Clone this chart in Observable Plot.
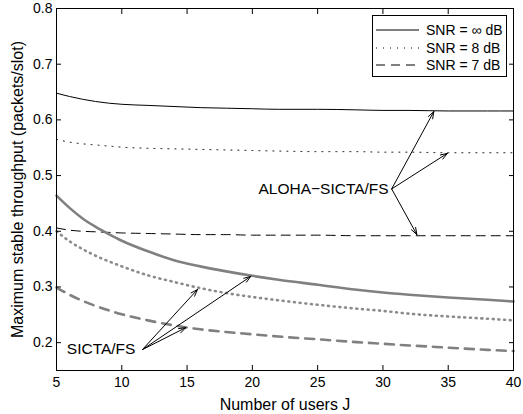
<!DOCTYPE html>
<html>
<head>
<meta charset="utf-8">
<script src="https://cdn.jsdelivr.net/npm/d3@7"></script>
<script src="https://cdn.jsdelivr.net/npm/@observablehq/plot@0.6"></script>
<style>
  html, body { margin: 0; padding: 0; background: #fff; }
  #wrap { position: relative; width: 523px; height: 414px; font-family: "Liberation Sans", Arial, Helvetica, sans-serif; }
  #legend { position: absolute; left: 372px; top: 15px; }
</style>
</head>
<body>
<div id="wrap"></div>
<script>
// ---- data ----
const users = [5, 6, 7, 8, 9, 10, 12, 14, 16, 18, 20, 22, 25, 28, 30, 32, 35, 38, 40];
const alohaInf = [0.648, 0.642, 0.637, 0.633, 0.630, 0.628, 0.626, 0.624, 0.622, 0.621, 0.620, 0.619, 0.619, 0.618, 0.617, 0.617, 0.616, 0.616, 0.616];
const aloha8   = [0.565, 0.560, 0.557, 0.555, 0.553, 0.551, 0.549, 0.548, 0.547, 0.546, 0.545, 0.544, 0.543, 0.543, 0.542, 0.542, 0.541, 0.541, 0.541];
const aloha7   = [0.406, 0.402, 0.400, 0.399, 0.398, 0.397, 0.396, 0.395, 0.394, 0.394, 0.393, 0.393, 0.393, 0.392, 0.392, 0.392, 0.392, 0.392, 0.392];
const sictaInf = [0.464, 0.442, 0.423, 0.408, 0.395, 0.383, 0.364, 0.348, 0.337, 0.328, 0.320, 0.313, 0.304, 0.295, 0.290, 0.286, 0.281, 0.277, 0.274];
const sicta8   = [0.400, 0.382, 0.368, 0.356, 0.346, 0.337, 0.321, 0.309, 0.298, 0.289, 0.282, 0.276, 0.268, 0.261, 0.257, 0.252, 0.247, 0.243, 0.240];
const sicta7   = [0.299, 0.286, 0.275, 0.266, 0.258, 0.251, 0.240, 0.231, 0.224, 0.219, 0.215, 0.211, 0.206, 0.201, 0.198, 0.195, 0.191, 0.187, 0.185];

const xTicks = [5, 10, 15, 20, 25, 30, 35, 40];
const yTicks = [0.2, 0.3, 0.4, 0.5, 0.6, 0.7, 0.8];
const xLabel = "Number of users J";
const yLabel = "Maximum stable throughput (packets/slot)";
const legendLabels = ["SNR = \u221E dB", "SNR = 8 dB", "SNR = 7 dB"];

// annotations: label, tail point, arrow tips
const alohaLabel = "ALOHA\u2212SICTA/FS";
const alohaTail = [30.67, 0.476];
const alohaTips = [[33.9, 0.615], [34.94, 0.540], [32.6, 0.394]];
const sictaLabel = "SICTA/FS";
const sictaTail = [11.58, 0.1875];
const sictaTips = [[15.8, 0.2955], [19.88, 0.319], [14.9, 0.227]];

// ---- styles ----
const FONT = "'Liberation Sans', Arial, Helvetica, sans-serif";
const GRAY = "#808080";
const series = [
  {vals: alohaInf, stroke: "black", width: 1, dash: null},
  {vals: aloha8, stroke: "black", width: 1, dash: "1,6"},
  {vals: aloha7, stroke: "black", width: 1, dash: "9,6"},
  {vals: sictaInf, stroke: GRAY, width: 2.6, dash: null},
  {vals: sicta8, stroke: "#8c8c8c", width: 2.6, dash: "1,4.7"},
  {vals: sicta7, stroke: GRAY, width: 2.6, dash: "9,7"}
];

const lineMarks = series.map(s => Plot.line(users.map((u, i) => ({x: u, y: s.vals[i]})), {
  x: "x", y: "y", stroke: s.stroke, strokeWidth: s.width,
  strokeDasharray: s.dash, curve: "monotone-x"
}));

const arrows = [
  ...alohaTips.map(t => ({x1: alohaTail[0], y1: alohaTail[1], x2: t[0], y2: t[1]})),
  ...sictaTips.map(t => ({x1: sictaTail[0], y1: sictaTail[1], x2: t[0], y2: t[1]}))
];

const chart = Plot.plot({
  width: 523,
  height: 414,
  marginLeft: 56,
  marginRight: 10,
  marginTop: 8,
  marginBottom: 44,
  style: {fontFamily: FONT, fontSize: "14px", color: "black", background: "white"},
  x: {domain: [5, 40], ticks: xTicks},
  y: {domain: [0.15, 0.8], ticks: yTicks},
  marks: [
    ...lineMarks,
    Plot.arrow(arrows, {x1: "x1", y1: "y1", x2: "x2", y2: "y2", stroke: "black", strokeWidth: 1, headLength: 11, headAngle: 38}),
    Plot.text([alohaLabel], {x: alohaTail[0], y: alohaTail[1], textAnchor: "end", dx: -3, fontSize: 15.5}),
    Plot.text([sictaLabel], {x: sictaTail[0], y: sictaTail[1], textAnchor: "end", dx: -7, dy: -1, fontSize: 15.5}),
    Plot.frame({stroke: "black", strokeWidth: 1}),
    Plot.axisX(xTicks, {anchor: "bottom", tickSize: 0, tickPadding: 7, label: null, fontSize: 14}),
    Plot.axisY(yTicks, {anchor: "left", tickSize: 0, tickPadding: 4, label: null, fontSize: 14, tickFormat: d3.format(".1f")}),
    Plot.axisX(xTicks, {anchor: "bottom", tickSize: -5, tickFormat: () => "", label: null}),
    Plot.axisX(xTicks, {anchor: "top", tickSize: -5, tickFormat: () => "", label: null}),
    Plot.axisY(yTicks, {anchor: "left", tickSize: -5, tickFormat: () => "", label: null}),
    Plot.axisY(yTicks, {anchor: "right", tickSize: -5, tickFormat: () => "", label: null}),
    Plot.text([xLabel], {frameAnchor: "bottom", textAnchor: "middle", lineAnchor: "middle", dy: 34, fontSize: 16}),
    Plot.text([yLabel], {frameAnchor: "left", textAnchor: "middle", lineAnchor: "middle", rotate: -90, dx: -39, fontSize: 16})
  ]
});

const wrap = document.getElementById("wrap");
wrap.appendChild(chart);

// legend box (inside the axes, as in the reference)
const legW = 135, legH = 62;
const leg = d3.create("svg").attr("id", "legend").attr("width", legW).attr("height", legH)
  .style("font-family", FONT).style("font-size", "14px");
leg.append("rect").attr("x", 0.5).attr("y", 0.5).attr("width", legW - 1).attr("height", legH - 1)
  .attr("fill", "white").attr("stroke", "black");
const legDash = [null, "1,6", "9,6"];
const rowY = [15, 33, 50];
legendLabels.forEach((lab, i) => {
  leg.append("line").attr("x1", 4).attr("x2", 47).attr("y1", rowY[i]).attr("y2", rowY[i])
    .attr("stroke", "black").attr("stroke-width", 1).attr("stroke-dasharray", legDash[i]);
  leg.append("text").attr("x", 54).attr("y", rowY[i]).attr("dy", "0.35em").text(lab);
});
wrap.appendChild(leg.node());
</script>
</body>
</html>
